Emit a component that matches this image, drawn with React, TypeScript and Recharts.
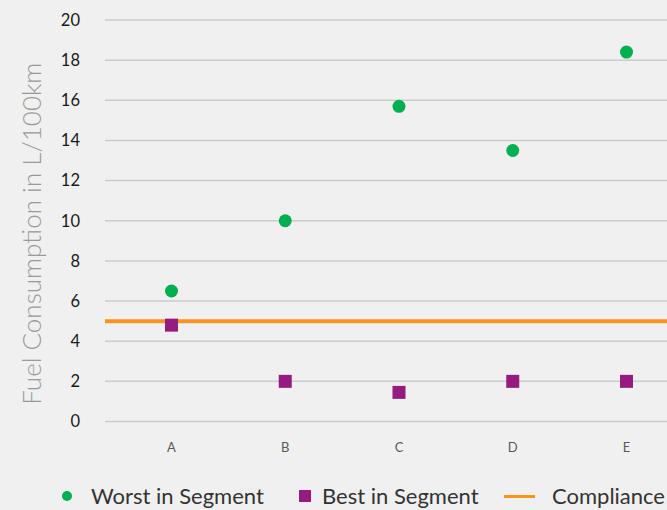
import React from 'react';
import {
  ComposedChart,
  Scatter,
  XAxis,
  YAxis,
  CartesianGrid,
  ReferenceLine,
  Legend,
} from 'recharts';

const categories = ['A', 'B', 'C', 'D', 'E'];
const worstInSegment = [6.5, 10, 15.7, 13.5, 18.4];
const bestInSegment = [4.8, 2, 1.45, 2, 2];
const complianceLevel = 5;
const yTicks = [0, 2, 4, 6, 8, 10, 12, 14, 16, 18, 20];

const GREEN = '#00b050';
const PURPLE = '#951b81';
const ORANGE = '#f7941d';
const FONT = 'Lato, "Open Sans", sans-serif';

const data = categories.map((c, i) => ({
  cat: c,
  worst: worstInSegment[i],
  best: bestInSegment[i],
}));

const CircleShape = (p: any) => <circle cx={p.cx} cy={p.cy} r={6.5} fill={GREEN} />;
const SquareShape = (p: any) => (
  <rect x={p.cx - 6.5} y={p.cy - 6.5} width={13} height={13} fill={PURPLE} />
);

const textStyle: React.CSSProperties = {
  position: 'absolute',
  top: 0,
  lineHeight: '28px',
  fontSize: 22,
  whiteSpace: 'nowrap',
  color: '#333333',
};

const LegendContent = () => (
  <div style={{ position: 'relative', width: 667, height: 28, fontFamily: FONT, overflow: 'hidden' }}>
    <span
      style={{ position: 'absolute', left: 62, top: 9, width: 10, height: 10, borderRadius: 5, background: GREEN }}
    />
    <span style={{ ...textStyle, left: 91 }}>Worst in Segment</span>
    <span style={{ position: 'absolute', left: 299, top: 8, width: 12, height: 12, background: PURPLE }} />
    <span style={{ ...textStyle, left: 322 }}>Best in Segment</span>
    <span style={{ position: 'absolute', left: 504, top: 12.5, width: 31, height: 3.5, background: ORANGE }} />
    <span style={{ ...textStyle, left: 552 }}>Compliance</span>
  </div>
);

export default function App() {
  return (
    <div
      style={{
        position: 'absolute',
        left: 0,
        top: 0,
        width: 667,
        height: 510,
        background: '#f0f0f0',
        overflow: 'hidden',
        fontFamily: FONT,
      }}
    >
      <ComposedChart
        width={667}
        height={510}
        data={data}
        margin={{ top: 20, right: 0, bottom: 0, left: 0 }}
      >
        <CartesianGrid vertical={false} stroke="#cccccc" strokeWidth={1.5} />
        <XAxis
          dataKey="cat"
          type="category"
          axisLine={false}
          tickLine={false}
          height={60.5}
          tickSize={6}
          tickMargin={15}
          padding={{ left: 66.5, right: 40.5 }}
          tick={{ fill: '#595959', fontSize: 13, fontFamily: FONT }}
        />
        <YAxis
          type="number"
          domain={[0, 20]}
          ticks={yTicks}
          width={105}
          axisLine={false}
          tickLine={false}
          tickSize={6}
          tickMargin={19}
          tick={{ fill: '#1a1a1a', fontSize: 16.5, fontFamily: FONT }}
          label={{
            value: 'Fuel Consumption in L/100km',
            angle: -90,
            position: 'insideLeft',
            offset: 31.5,
            dy: 13,
            style: {
              textAnchor: 'middle',
              fontFamily: FONT,
              fontWeight: 300,
              fontSize: 26,
              fill: '#9a9a9a',
            },
          }}
        />
        <ReferenceLine y={complianceLevel} stroke={ORANGE} strokeWidth={4} />
        <Scatter name="Worst in Segment" dataKey="worst" shape={CircleShape} isAnimationActive={false} />
        <Scatter name="Best in Segment" dataKey="best" shape={SquareShape} isAnimationActive={false} />
        <Legend
          verticalAlign="bottom"
          content={<LegendContent />}
          wrapperStyle={{ left: 0, width: 667, height: 28 }}
        />
      </ComposedChart>
    </div>
  );
}
